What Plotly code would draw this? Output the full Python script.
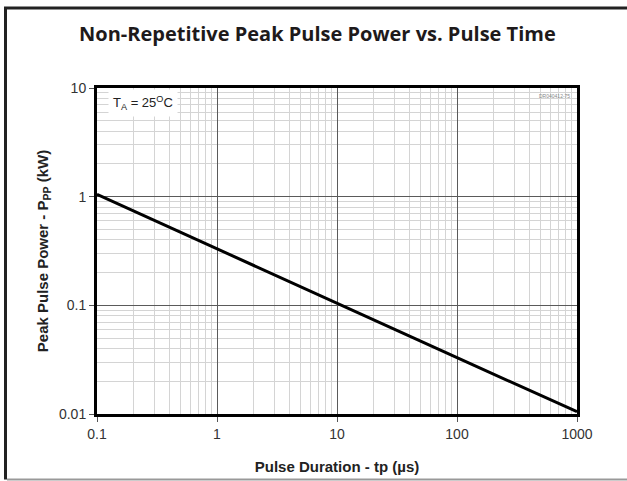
import plotly.graph_objects as go

# Data
pulse_time_us = [0.1, 1, 10, 100, 1000]
peak_power_kw = [1.05, 0.33, 0.105, 0.033, 0.0105]

W, H = 627, 481
L, R, T, B = 97, 577, 88, 414


def px(x):
    return (x - L) / (R - L)


def py(y):
    return (B - y) / (B - T)


fig = go.Figure()
fig.add_trace(go.Scatter(
    x=pulse_time_us, y=peak_power_kw, mode="lines",
    line=dict(color="black", width=3), showlegend=False, hoverinfo="skip"))

axis_common = dict(
    type="log",
    automargin=False,
    tickmode="linear", tick0=0, dtick=1,
    exponentformat="none",
    showline=True, linecolor="black", linewidth=3, mirror=True,
    ticks="outside", ticklen=5, tickcolor="#555", tickwidth=1,
    showgrid=True, gridcolor="#5a5a5a", gridwidth=1,
    zeroline=False,
    tickfont=dict(family="Liberation Sans, Arial", size=14, color="#333"),
    minor=dict(showgrid=True, dtick="D1", gridcolor="#d4d4d4", gridwidth=1, ticks=""),
)

fig.update_xaxes(**axis_common, range=[-1, 3],
                 title=dict(text="<b>Pulse Duration - tp (µs)</b>",
                            font=dict(family="Liberation Sans, Arial", size=15, color="#222"),
                            standoff=21))
fig.update_yaxes(**axis_common, range=[-2, 1],
                 title=dict(text="<b>Peak Pulse Power - P<sub>PP</sub> (kW)</b>",
                            font=dict(family="Liberation Sans, Arial", size=15, color="#222"),
                            standoff=7))

fig.add_annotation(
    xref="paper", yref="paper", x=px(317), y=py(33), xanchor="center", yanchor="middle",
    text="<b>Non-Repetitive Peak Pulse Power vs. Pulse Time</b>", showarrow=False,
    font=dict(family="Open Sans", size=20, color="#1e1a1b"))

fig.add_annotation(
    xref="paper", yref="paper", x=px(108), y=py(103), xanchor="left", yanchor="middle",
    text="T<sub>A</sub> = 25<sup>O</sup>C", showarrow=False, bgcolor="white",
    borderpad=4,
    font=dict(family="Liberation Sans, Arial", size=13, color="#222"))

fig.add_annotation(
    xref="paper", yref="paper", x=px(572), y=py(96), xanchor="right", yanchor="middle",
    text="DR040412-75", showarrow=False,
    font=dict(family="Liberation Sans, Arial", size=5, color="#888"))

# outer frame
fig.add_shape(type="line", xref="paper", yref="paper",
              x0=px(5.5), x1=px(5.5), y0=py(7), y1=py(479.5),
              line=dict(color="#222", width=3), layer="above")
fig.add_shape(type="line", xref="paper", yref="paper",
              x0=px(4), x1=px(627), y0=py(8), y1=py(8),
              line=dict(color="#222", width=3), layer="above")
fig.add_shape(type="line", xref="paper", yref="paper",
              x0=px(7), x1=px(627), y0=py(479.5), y1=py(479.5),
              line=dict(color="#999", width=2), layer="above")

fig.update_layout(
    width=W, height=H,
    margin=dict(l=L, r=W - R, t=T, b=H - B),
    paper_bgcolor="white", plot_bgcolor="white",
    showlegend=False,
)

fig.write_html(
    "out.html", config={"displayModeBar": False},
    post_script=("document.body.style.margin='0';"
                 "document.body.style.overflow='hidden';"
                 "document.documentElement.style.overflow='hidden';"
                 "window.scrollTo(0,0);"))
